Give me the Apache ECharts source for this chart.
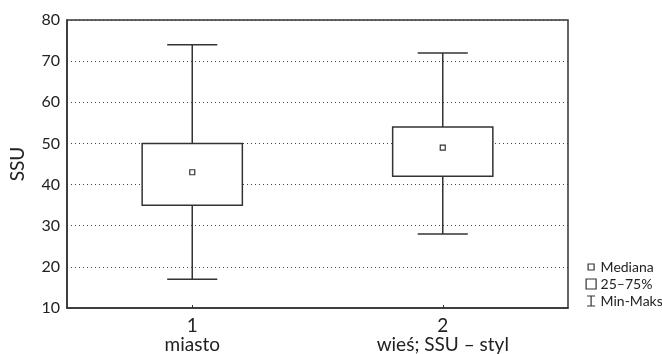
<!DOCTYPE html>
<html>
<head>
<meta charset="utf-8">
<script src="https://cdn.jsdelivr.net/npm/echarts@6/dist/echarts.min.js"></script>
<style>
  html, body { margin: 0; padding: 0; background: #fff; }
  #chart { width: 662px; height: 354px; }
</style>
</head>
<body>
<div id="chart"></div>
<script>
// Groups and their summary statistics (SSU)
const categories = ['1\nmiasto', '2\nwieś; SSU – styl'];
const minVals    = [17, 28];
const q1Vals     = [35, 42];
const medianVals = [43, 49];
const q3Vals     = [50, 54];
const maxVals    = [74, 72];

const FONT = 'Lato, "Open Sans", sans-serif';
const INK = '#333';

const whiskerData = categories.map((c, i) => [i, minVals[i], q1Vals[i], q3Vals[i], maxVals[i]]);
const boxData = categories.map((c, i) => [i, q1Vals[i], q3Vals[i]]);
const medianData = categories.map((c, i) => [i, medianVals[i]]);

const chart = echarts.init(document.getElementById('chart'), null, { renderer: 'canvas' });

chart.setOption({
  animation: false,
  backgroundColor: '#fff',
  textStyle: { fontFamily: FONT },
  grid: {
    left: 67, right: 94, top: 20, bottom: 45,
    show: true, borderColor: INK, borderWidth: 1.5, backgroundColor: 'transparent'
  },
  legend: {
    orient: 'vertical',
    left: 580, top: 255,
    itemWidth: 11, itemHeight: 11, itemGap: 3,
    textStyle: { fontFamily: FONT, fontSize: 14, color: '#222', padding: [0, 0, 0, -1] },
    data: [
      { name: 'Mediana', icon: 'path://M0,0M11,11M2.5,2.5L8.5,2.5L8.5,8.5L2.5,8.5Z',
        itemStyle: { color: '#fff', borderColor: INK, borderWidth: 1.2 } },
      { name: '25–75%', icon: 'path://M0,0M11,11M0.5,0.5L10.5,0.5L10.5,10.5L0.5,10.5Z',
        itemStyle: { color: '#fff', borderColor: INK, borderWidth: 1.2 } },
      { name: 'Min-Maks', icon: 'path://M0,0M11,11M1.5,0.5L9.5,0.5M5.5,0.5L5.5,10.5M1.5,10.5L9.5,10.5',
        itemStyle: { color: '#fff', borderColor: INK, borderWidth: 1.2 } }
    ]
  },
  xAxis: {
    type: 'category',
    data: categories,
    boundaryGap: true,
    axisLine: { show: true, lineStyle: { color: INK, width: 1.5 } },
    axisTick: { show: true, inside: true, length: 3, alignWithLabel: true, lineStyle: { color: INK } },
    axisLabel: { color: '#222', fontSize: 19, fontFamily: FONT, lineHeight: 19, margin: 8 },
    splitLine: { show: false }
  },
  yAxis: {
    type: 'value',
    min: 10, max: 80, interval: 10,
    name: 'SSU',
    nameLocation: 'middle',
    nameGap: 40,
    nameRotate: 90,
    nameTextStyle: { color: '#222', fontSize: 19, fontFamily: FONT },
    axisLine: { show: true, lineStyle: { color: INK, width: 1.5 } },
    axisTick: { show: false },
    axisLabel: { color: '#222', fontSize: 16, fontFamily: FONT, margin: 7 },
    splitLine: { show: true, lineStyle: { color: '#444', width: 1, type: [1, 3] } }
  },
  series: [
    {
      name: 'Min-Maks',
      type: 'custom',
      data: whiskerData,
      encode: { x: 0, y: [1, 2, 3, 4] },
      renderItem: function (params, api) {
        const x = api.value(0);
        const capHalf = api.size([1, 0])[0] * 0.1;
        const pMin = api.coord([x, api.value(1)]);
        const pQ1 = api.coord([x, api.value(2)]);
        const pQ3 = api.coord([x, api.value(3)]);
        const pMax = api.coord([x, api.value(4)]);
        const style = { stroke: INK, lineWidth: 1.5, fill: null };
        return {
          type: 'group',
          children: [
            { type: 'line', shape: { x1: pMax[0], y1: pMax[1], x2: pQ3[0], y2: pQ3[1] }, style },
            { type: 'line', shape: { x1: pQ1[0], y1: pQ1[1], x2: pMin[0], y2: pMin[1] }, style },
            { type: 'line', shape: { x1: pMax[0] - capHalf, y1: pMax[1], x2: pMax[0] + capHalf, y2: pMax[1] }, style },
            { type: 'line', shape: { x1: pMin[0] - capHalf, y1: pMin[1], x2: pMin[0] + capHalf, y2: pMin[1] }, style }
          ]
        };
      }
    },
    {
      name: '25–75%',
      type: 'custom',
      data: boxData,
      encode: { x: 0, y: [1, 2] },
      renderItem: function (params, api) {
        const x = api.value(0);
        const half = api.size([1, 0])[0] * 0.2;
        const pLow = api.coord([x, api.value(1)]);
        const pHigh = api.coord([x, api.value(2)]);
        return {
          type: 'rect',
          shape: { x: pLow[0] - half, y: pHigh[1], width: half * 2, height: pLow[1] - pHigh[1] },
          style: { fill: '#fff', stroke: INK, lineWidth: 1.5 }
        };
      }
    },
    {
      name: 'Mediana',
      type: 'scatter',
      data: medianData,
      symbol: 'rect',
      symbolSize: 5,
      itemStyle: { color: '#fff', borderColor: INK, borderWidth: 1.2, opacity: 1 },
      z: 5
    }
  ]
});
</script>
</body>
</html>
